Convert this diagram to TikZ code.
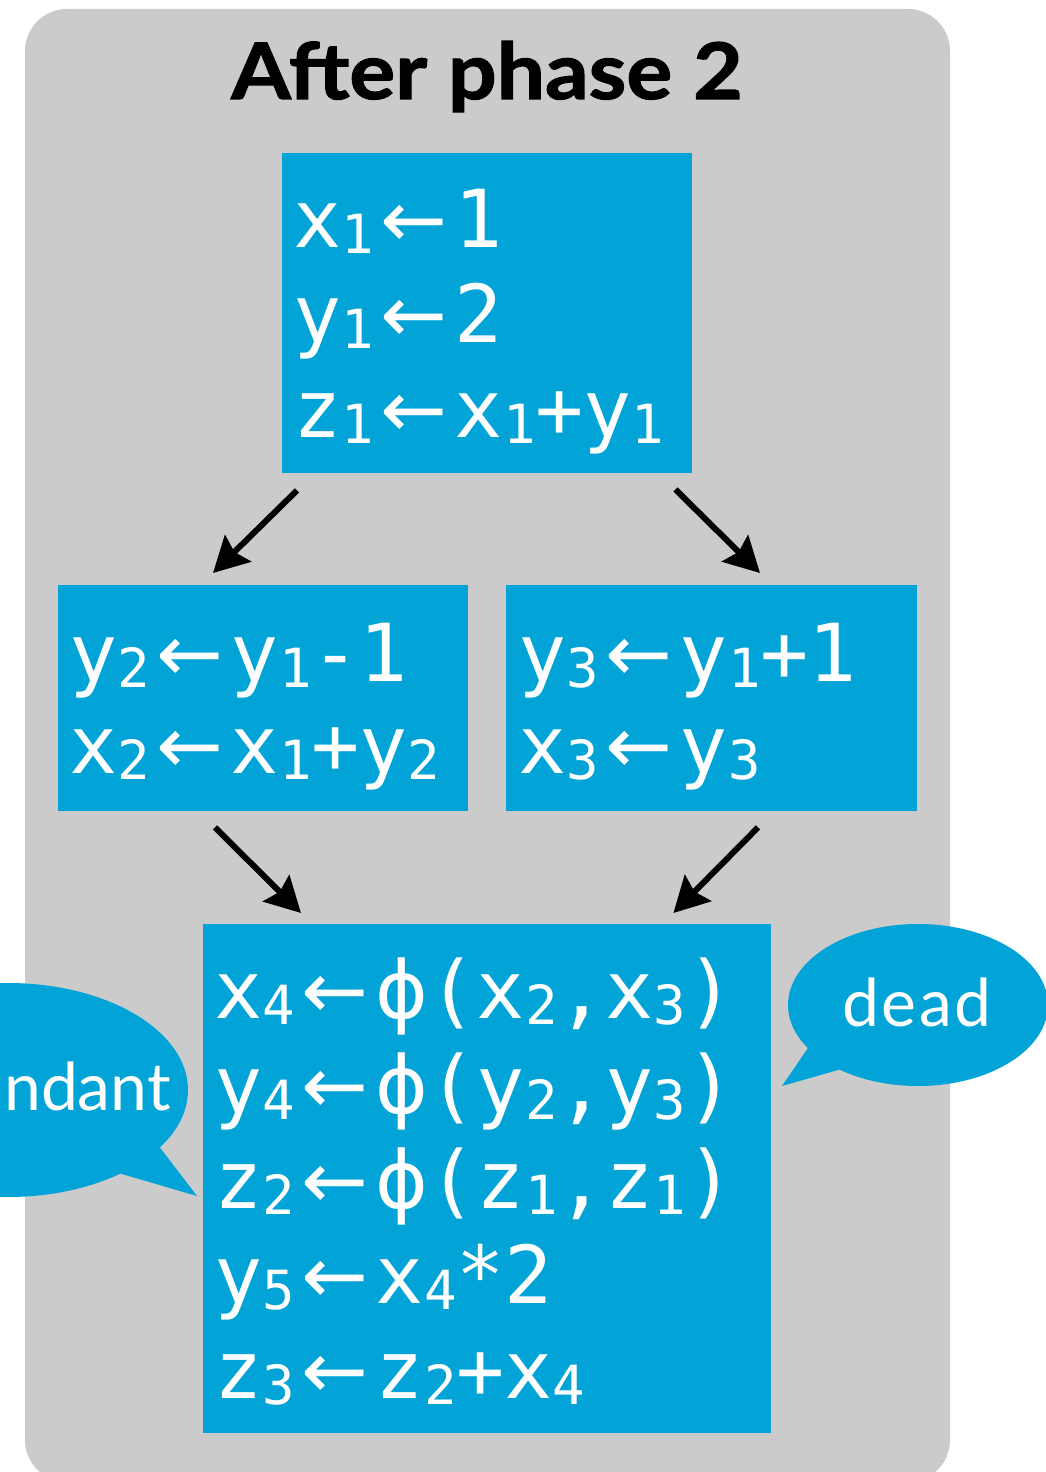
\documentclass[tikz,border=0pt]{standalone}
\usepackage{fontspec}
\setmainfont{Lato}
\newfontfamily\codefont{DejaVu Sans Mono}
\newfontfamily\symfont{DejaVu Sans}
\newfontfamily\titlefont{Lato}[BoldFeatures={FakeBold=1.5,FakeStretch=1.1}]
\usetikzlibrary{arrows.meta,calc,shapes.geometric}
\definecolor{bg}{RGB}{203,203,203}
\definecolor{bl}{RGB}{2,164,216}
\newcommand{\cl}[2]{\vtop{\baselineskip=#1\lineskiplimit=-500pt\lineskip=0pt #2}}
\newcommand{\sbd}[1]{\raisebox{-6pt}{\fontsize{54}{54}\selectfont #1}}
\newcommand{\la}{\hspace{7pt}{\symfont ←}\hspace{7pt}}
\newcommand{\ph}{{\symfont ϕ}}
\tikzset{
  blk/.style={fill=bl, draw=none, inner sep=0pt, anchor=north west},
  code/.style={text=white, inner sep=0pt, anchor=base west, font=\codefont\fontsize{80}{95}\selectfont},
  flow/.style={line width=6pt, -{Stealth[length=35pt,width=37pt,inset=5pt]}},
  bubble/.style={ellipse, fill=bl, draw=none, inner sep=0pt},
  bubtxt/.style={text=white, inner sep=0pt, font=\fontsize{66}{70}\selectfont},
}
\begin{document}
\begin{tikzpicture}[x=1pt,y=-1pt]
\useasboundingbox (0,0) rectangle (1046,1472);
\fill[bg, rounded corners=42pt] (25,9) rectangle (950,1482);
\node[font=\titlefont\fontsize{78}{90}\selectfont\bfseries, anchor=base, inner sep=0pt] (title) at (487,99) {After phase 2};
% blocks
\node[blk, minimum width=410, minimum height=320] (top) at (282,153) {};
\node[blk, minimum width=410, minimum height=226] (left) at (58,585) {};
\node[blk, minimum width=411, minimum height=226] (right) at (506,585) {};
\node[blk, minimum width=568, minimum height=509] (bot) at (203,924) {};
\node[code] (toptxt) at (293,247) {\cl{95pt}{\hbox{x\sbd{1}\la 1}\hbox{y\sbd{1}\la 2}\hbox{z\sbd{1}\la x\sbd{1}+y\sbd{1}}}};
\node[code] (lefttxt) at (69,681) {\cl{92pt}{\hbox{y\sbd{2}\la y\sbd{1}-1}\hbox{x\sbd{2}\la x\sbd{1}+y\sbd{2}}}};
\node[code] (righttxt) at (518,681) {\cl{92pt}{\hbox{y\sbd{3}\la y\sbd{1}+1}\hbox{x\sbd{3}\la y\sbd{3}}}};
\node[code] (bottxt) at (214,1018) {\cl{95pt}{%
\hbox{x\sbd{4}\la\ph(x\sbd{2},x\sbd{3})}%
\hbox{y\sbd{4}\la\ph(y\sbd{2},y\sbd{3})}%
\hbox{z\sbd{2}\la\ph(z\sbd{1},z\sbd{1})}%
\hbox{y\sbd{5}\la x\sbd{4}*2}%
\hbox{z\sbd{3}\la z\sbd{2}+x\sbd{4}}}};
% arrows
\coordinate (a1s) at ($(top.south west)+(15,17)$);
\coordinate (a1e) at ($(left.north west)+(155,-12)$);
\coordinate (a2s) at ($(top.south east)+(-17,16)$);
\coordinate (a2e) at ($(right.north west)+(254,-12)$);
\coordinate (a3s) at ($(left.south west)+(157,16)$);
\coordinate (a3e) at ($(bot.north west)+(98,-11)$);
\coordinate (a4s) at ($(right.south west)+(252,16)$);
\coordinate (a4e) at ($(bot.north east)+(-98,-11)$);
\draw[flow] (a1s) -- (a1e);
\draw[flow] (a2s) -- (a2e);
\draw[flow] (a3s) -- (a3e);
\draw[flow] (a4s) -- (a4e);
% bubbles
\node[bubble, minimum width=260, minimum height=162] (deadb) at (918,1005) {};
\fill[bl] (810,1045) -- (782,1086) -- (845,1068) -- cycle;
\node[bubtxt, anchor=base, font=\fontsize{66}{70}\selectfont\addfontfeature{LetterSpace=4}] (deadt) at (917,1026) {dead};
\node[bubble, minimum width=360, minimum height=214] (redb) at (8,1090) {};
\fill[bl] (158,1145) -- (197,1196) -- (115,1172) -- cycle;
\node[bubtxt, anchor=base east] (redt) at (171,1110) {ndant};
\end{tikzpicture}
\end{document}
